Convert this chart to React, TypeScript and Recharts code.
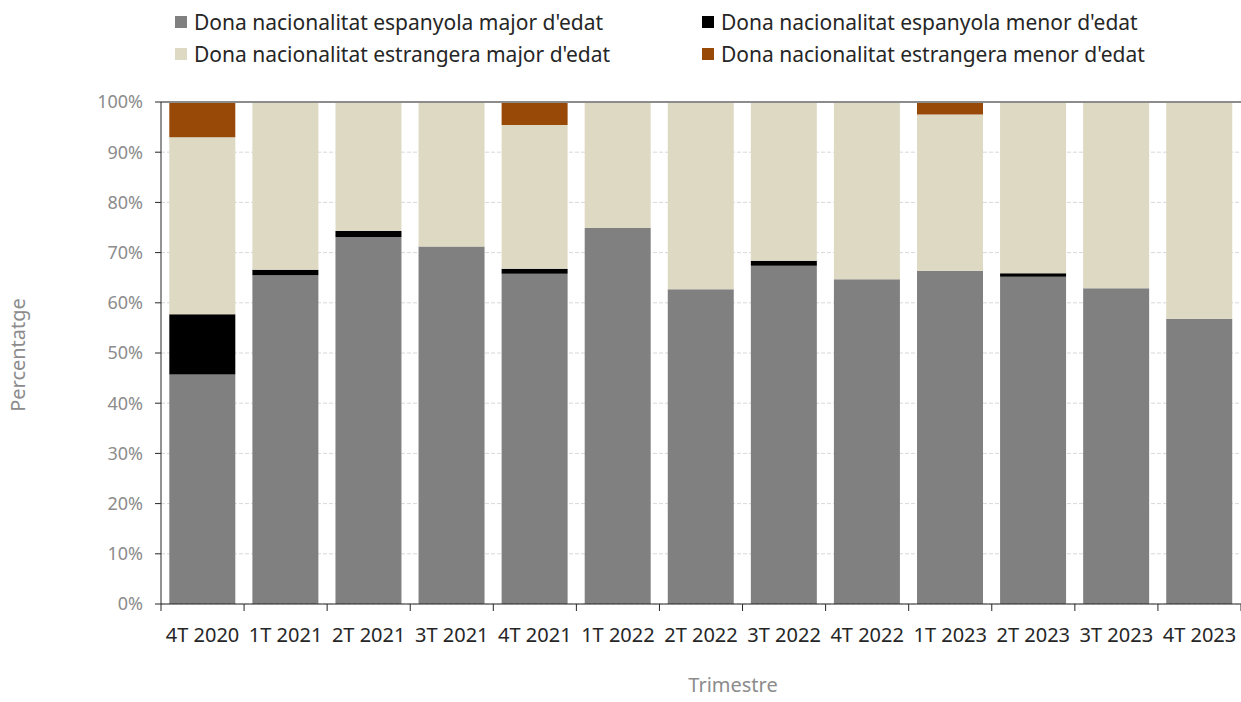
import { BarChart, Bar, XAxis, YAxis, CartesianGrid, Legend, ReferenceLine } from 'recharts'

const quarters = ['4T 2020', '1T 2021', '2T 2021', '3T 2021', '4T 2021', '1T 2022', '2T 2022', '3T 2022', '4T 2022', '1T 2023', '2T 2023', '3T 2023', '4T 2023']

const espMajor = [45.7, 65.5, 73.1, 71.2, 65.8, 74.9, 62.7, 67.4, 64.7, 66.4, 65.2, 62.9, 56.8]
const espMenor = [12.0, 1.1, 1.2, 0, 1.0, 0, 0, 1.0, 0, 0, 0.7, 0, 0]
const estMajor = [35.3, 33.4, 25.7, 28.8, 28.6, 25.1, 37.3, 31.6, 35.3, 31.1, 34.1, 37.1, 43.2]
const estMenor = [7.0, 0, 0, 0, 4.6, 0, 0, 0, 0, 2.5, 0, 0, 0]

const yTicks = [0, 10, 20, 30, 40, 50, 60, 70, 80, 90, 100]

const series = [
  { key: 'espMajor', name: "Dona nacionalitat espanyola major d'edat", color: '#808080' },
  { key: 'espMenor', name: "Dona nacionalitat espanyola menor d'edat", color: '#000000' },
  { key: 'estMajor', name: "Dona nacionalitat estrangera major d'edat", color: '#ddd9c3' },
  { key: 'estMenor', name: "Dona nacionalitat estrangera menor d'edat", color: '#984807' },
]

const data = quarters.map((q, i) => ({
  q,
  espMajor: espMajor[i],
  espMenor: espMenor[i],
  estMajor: estMajor[i],
  estMenor: estMenor[i],
}))

const FONT = '"Noto Sans", sans-serif'

function LegendBox() {
  // 2x2 grid, ordered like the Excel legend
  const cols = [175, 702]
  const rows = [22, 54]
  return (
    <div style={{ position: 'relative', width: 1241, height: 102, fontFamily: FONT, fontSize: 21, color: '#262626' }}>
      {series.map((s, i) => (
        <div
          key={s.key}
          style={{
            position: 'absolute', left: cols[i % 2], top: rows[Math.floor(i / 2)] - 14,
            display: 'flex', alignItems: 'center', whiteSpace: 'nowrap', height: 28,
          }}
        >
          <span style={{ width: 12, height: 12, background: s.color, marginRight: 7, display: 'inline-block' }} />
          <span>{s.name}</span>
        </div>
      ))}
    </div>
  )
}

function XTick(props: any) {
  const { x, y, payload, index } = props
  const off = payload.offset ?? 41.5
  return (
    <g>
      <line x1={x - off} y1={y} x2={x - off} y2={y + 7} stroke="#262626" />
      {index === quarters.length - 1 && (
        <line x1={x + off} y1={y} x2={x + off} y2={y + 7} stroke="#262626" />
      )}
      <text x={x} y={y + 38} textAnchor="middle" fill="#262626" fontSize={20} fontFamily={FONT}>
        {payload.value}
      </text>
    </g>
  )
}

function YTitle(props: any) {
  const vb = props.viewBox
  const cx = vb.x + 17
  const cy = vb.y + vb.height / 2 + 2
  return (
    <text x={cx} y={cy} transform={`rotate(-90 ${cx} ${cy})`} textAnchor="middle" dominantBaseline="central"
      fill="#8c8c8c" fontSize={20} fontFamily={FONT}>
      Percentatge
    </text>
  )
}

function XTitle(props: any) {
  const vb = props.viewBox
  return (
    <text x={vb.x + vb.width / 2 + 32} y={vb.y + vb.height - 10} textAnchor="middle"
      fill="#8c8c8c" fontSize={20} fontFamily={FONT}>
      Trimestre
    </text>
  )
}

export default function App() {
  return (
    <div style={{ position: 'absolute', left: 0, top: 0, background: '#fff' }}>
      <BarChart width={1241} height={702} data={data} margin={{ top: 0, right: 0, bottom: 0, left: 0 }} barCategoryGap="10%">
        <CartesianGrid vertical={false} stroke="#d9d9d9" strokeDasharray="4 2" />
        <Legend verticalAlign="top" content={() => <LegendBox />} wrapperStyle={{ left: 0, top: 0 }} />
        <XAxis
          dataKey="q"
          height={98}
          tick={<XTick />}
          tickLine={false}
          tickSize={0}
          tickMargin={0}
          interval={0}
          stroke="#262626"
          label={<XTitle />}
        />
        <YAxis
          width={161}
          domain={[0, 100]}
          ticks={yTicks}
          allowDataOverflow
          tickFormatter={(v: number) => `${v}%`}
          tick={{ fill: '#8c8c8c', fontSize: 18, fontFamily: FONT }}
          tickSize={6}
          tickMargin={12}
          stroke="#262626"
          label={<YTitle />}
        />
        {series.map(s => (
          <Bar key={s.key} dataKey={s.key} name={s.name} stackId="a" fill={s.color} isAnimationActive={false} />
        ))}
        <ReferenceLine y={100} stroke="#8c8c8c" strokeWidth={2} />
      </BarChart>
    </div>
  )
}
